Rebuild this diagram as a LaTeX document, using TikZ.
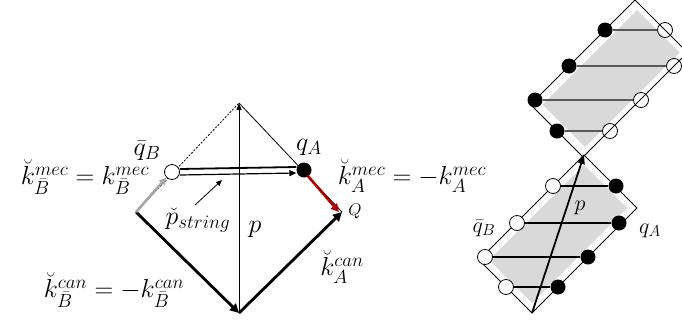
\RequirePackage{fix-cm}
\documentclass[tikz,border=0pt]{standalone}
\usepackage{amsmath}
\DeclareMathSizes{26}{26}{19}{14}
\DeclareMathSizes{22}{22}{16}{12}
\DeclareMathSizes{17}{17}{13}{10}
\usetikzlibrary{arrows.meta,calc}
\begin{document}
\begin{tikzpicture}[x=1pt,y=-1pt,
  edgeline/.style={line width=0.8pt},
  big/.style={font=\fontsize{26}{30}\selectfont, inner sep=0pt},
  small/.style={font=\fontsize{22}{26}\selectfont, inner sep=0pt},
  openc/.style={circle,draw,fill=white,minimum size=15pt,inner sep=0pt,line width=0.8pt},
  openu/.style={circle,draw,minimum size=15pt,inner sep=0pt,line width=0.8pt},
  fullc/.style={circle,fill=black,minimum size=15pt,inner sep=0pt},
  thickarrow/.style={line width=2.8pt,-{Triangle[length=9pt,width=9pt]}},
  thinarrow/.style={line width=0.9pt,-{Triangle[length=7pt,width=5pt]}},
  grayfill/.style={fill=black!15},
  uline/.style={line width=2.5pt,black!65},
  lline/.style={line width=2pt,black}]
\useasboundingbox (0,0) rectangle (682,322);

% ---------- left diagram ----------
\coordinate (T) at (239,103);
\coordinate (Bt) at (239,313);
\coordinate (L) at (136,212);
\coordinate (Q) at (342,212);

\draw[edgeline, dash pattern=on 2pt off 1.5pt] (L) -- (T);
\draw[edgeline] (T) -- (Q);
\draw[thinarrow] (Bt) -- (T);
\draw[thickarrow] (L) -- (Bt);
\draw[thickarrow] (Bt) -- (Q);

\node[openc] (qB) at (172,172) {};
\node[fullc] (qA) at (304,170) {};

\draw[line width=2.6pt, black!35, -{Triangle[length=7pt,width=7pt]}] (L) -- (qB.south west);
\draw[line width=2.6pt, red!70!black, -{Triangle[length=8pt,width=8pt]}] ($(qA.south east)+(-2,0)$) -- ($(Q)+(-3,0)$);

\draw[line width=1.8pt] ($(qB.east)+(0,-3)$) -- ($(qA.west)+(0,-3)$);
\draw[line width=1.2pt, -{Triangle[length=7pt,width=6pt]}] ($(qB.east)+(0,3)$) -- ($(qA.west)+(0,3)$);

\coordinate (pbase) at (195,205);
\coordinate (ptip) at (222,180);
\draw[line width=0.8pt, -{Triangle[length=6pt,width=5pt]}] (pbase) -- (ptip);

\node[big] (lqB) at (147,151) {$\bar q_B$};
\node[big] (lkB) at (85,177) {$\breve k^{mec}_{\bar B}=k^{mec}_{\bar B}$};
\node[big] (lps) at (198,220) {$\check p_{string}$};
\node[big] (lp) at (255,229) {$p$};
\node[big] (lkBc) at (114,290) {$\breve k^{can}_{\bar B}=-k^{can}_{\bar B}$};
\node[big] (lqA) at (309,147) {$q_A$};
\node[big] (lkA) at (412,176) {$\breve k^{mec}_A=-k^{mec}_A$};
\node[font=\fontsize{17}{20}\selectfont, inner sep=0pt] (lQ) at (355,211) {$Q$};
\node[big] (lkAc) at (342,267) {$\breve k^{can}_A$};

% ---------- upper rectangle ----------
\coordinate (UB) at (583,157);
\coordinate (UL) at (530.5,104.5);
\coordinate (UT) at (635,0);
\coordinate (UR) at (687.5,52.5);
\fill[grayfill] (585,147) -- (542.5,104.5) -- (637,10) -- (679.5,52.5) -- cycle;
\draw[edgeline] (UB) -- (UL) -- (UT) -- (UR) -- cycle;

\node[fullc] (uf1) at (605,30) {};
\node[fullc] (uf2) at (569,66) {};
\node[fullc] (uf3) at (535,100) {};
\node[fullc] (uf4) at (557,131) {};
\node[openu] (uo1) at (665,30) {};
\node[openu] (uo2) at (674,66) {};
\node[openu] (uo3) at (641,100) {};
\node[openu] (uo4) at (610,131) {};
\draw[uline] (uf1) -- (uo1);
\draw[uline] (uf2) -- (uo2);
\draw[uline] (uf3) -- (uo3);
\draw[uline] (uf4) -- (uo4);

% ---------- lower rectangle ----------
\coordinate (LT) at (584,155);
\coordinate (LR) at (637,208);
\coordinate (LB) at (532,313);
\coordinate (LL) at (479,260);
\fill[grayfill] (584,165) -- (627,208) -- (532,303) -- (489,260) -- cycle;
\draw[edgeline] (LT) -- (LR) -- (LB) -- (LL) -- cycle;

\node[openc] (lo1) at (553,186) {};
\node[openc] (lo2) at (517,223) {};
\node[openc] (lo3) at (485,257) {};
\node[openc] (lo4) at (506,287) {};
\node[fullc] (lf1) at (616,186) {};
\node[fullc] (lf2) at (619,223) {};
\node[fullc] (lf3) at (588,257) {};
\node[fullc] (lf4) at (558,287) {};
\draw[lline] (lo1) -- (lf1);
\draw[lline] (lo2) -- (lf2);
\draw[lline] (lo3) -- (lf3);
\draw[lline] (lo4) -- (lf4);

\draw[line width=1.8pt, -{Triangle[length=9pt,width=7pt]}] (LB) -- (LT);

\node[small] (rp) at (580,208) {$p$};
\node[small] (rqB) at (484,228) {$\bar q_B$};
\node[small] (rqA) at (650,231) {$q_A$};
\end{tikzpicture}
\end{document}
